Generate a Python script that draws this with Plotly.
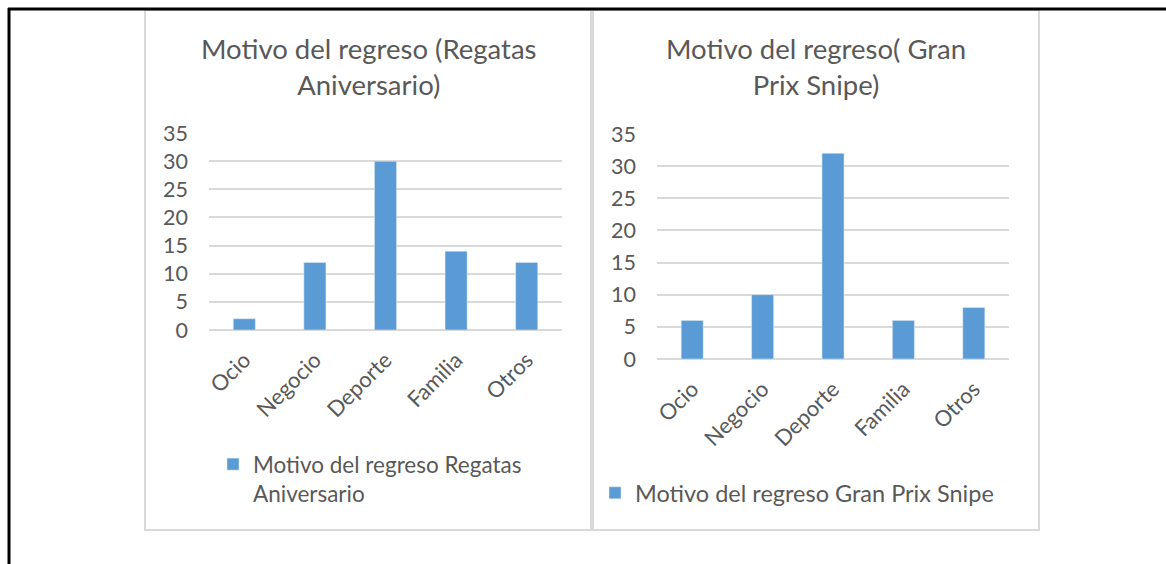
import plotly.graph_objects as go

categorias = ["Ocio", "Negocio", "Deporte", "Familia", "Otros"]
regatas_aniversario = [2, 12, 30, 14, 12]
gran_prix_snipe = [6, 10, 32, 6, 8]
ticks_y = [0, 5, 10, 15, 20, 25, 30, 35]

W, H = 1166, 564
AZUL = "#5b9bd5"
GRIS = "#595959"
REJILLA = "#d9d9d9"
FUENTE = "Lato, Carlito, Calibri, sans-serif"


def px(x):
    return x / W


def py(y):
    return 1 - y / H


fig = go.Figure()
fig.add_trace(go.Bar(x=categorias, y=regatas_aniversario, marker_color=AZUL,
                     name="Motivo del regreso Regatas<br>Aniversario",
                     xaxis="x", yaxis="y", legend="legend"))
fig.add_trace(go.Bar(x=categorias, y=gran_prix_snipe, marker_color=AZUL,
                     name="Motivo del regreso Gran Prix Snipe",
                     xaxis="x2", yaxis="y2", legend="legend2"))

eje_x = dict(tickangle=-45, showgrid=False, showline=False, ticks="", automargin=False,
             tickfont=dict(size=22, color=GRIS, family=FUENTE), ticklabelstandoff=12)
eje_y = dict(range=[0, 35], tickvals=ticks_y, showgrid=True, gridcolor=REJILLA, gridwidth=1.5,
             zeroline=True, zerolinecolor=REJILLA, zerolinewidth=1.5, showline=False, ticks="",
             automargin=False, tickfont=dict(size=21.5, color=GRIS, family=FUENTE),
             ticklabelstandoff=20)

fig.update_layout(
    width=W, height=H, margin=dict(l=0, r=0, t=0, b=0, autoexpand=False),
    paper_bgcolor="white", plot_bgcolor="white",
    bargap=0.687, showlegend=True,
    xaxis=dict(domain=[px(209), px(562)], anchor="y", **eje_x),
    yaxis=dict(domain=[py(330), py(133)], anchor="x", **eje_y),
    xaxis2=dict(domain=[px(657), px(1009)], anchor="y2", **eje_x),
    yaxis2=dict(domain=[py(359), py(134)], anchor="x2", **eje_y),
    legend=dict(x=px(213), y=py(443), xanchor="left", yanchor="top", valign="top",
                bgcolor="rgba(0,0,0,0)", font=dict(size=22.5, color=GRIS, family=FUENTE)),
    legend2=dict(x=px(595), y=py(471), xanchor="left", yanchor="top", valign="top",
                 bgcolor="rgba(0,0,0,0)", font=dict(size=23.5, color=GRIS, family=FUENTE)),
)

# títulos de cada gráfico
for cx, texto in [(368, "Motivo del regreso (Regatas<br>Aniversario)"),
                  (816, "Motivo del regreso( Gran<br>Prix Snipe)")]:
    fig.add_annotation(x=px(cx), y=py(30), xref="paper", yref="paper", text=texto,
                       showarrow=False, xanchor="center", yanchor="top", align="center",
                       font=dict(size=27.5, color=GRIS, family=FUENTE))

# marcos de los gráficos y bordes de la página
for x0, x1 in [(145, 591), (593, 1039)]:
    fig.add_shape(type="rect", xref="paper", yref="paper", x0=px(x0), x1=px(x1),
                  y0=py(530), y1=py(10), line=dict(color=REJILLA, width=2), layer="below")
fig.add_shape(type="line", xref="paper", yref="paper", x0=px(8), x1=1, y0=py(9), y1=py(9),
              line=dict(color="black", width=3))
fig.add_shape(type="line", xref="paper", yref="paper", x0=px(9), x1=px(9), y0=0, y1=py(8),
              line=dict(color="black", width=3))

# sin margen en el body para que la figura ocupe la ventana completa
fig.write_html("out.html", config={"displayModeBar": False},
               post_script="document.body.style.margin='0';")
